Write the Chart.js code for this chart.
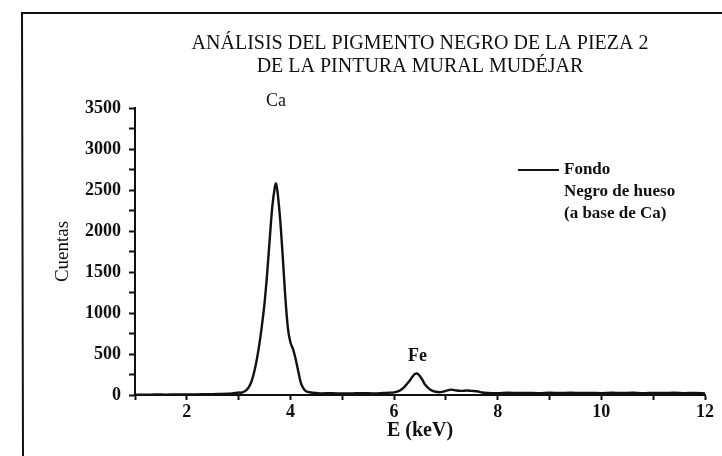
<!DOCTYPE html>
<html>
<head>
<meta charset="utf-8">
<script src="https://cdn.jsdelivr.net/npm/chart.js@4.4.1/dist/chart.umd.min.js"></script>
<style>
    html, body { margin: 0; padding: 0; background: #fff; }
    #wrap { width: 722px; height: 456px; }
</style>
</head>
<body>
<div id="wrap"><canvas id="edxChart" width="722" height="456"></canvas></div>
<script>
// Espectro EDX - pigmento negro, pieza 2
const titleLines = ['ANÁLISIS DEL PIGMENTO NEGRO DE LA PIEZA 2', 'DE LA PINTURA MURAL MUDÉJAR'];

const energy = [
    1.0, 1.2, 1.4, 1.6, 1.8, 2.0, 2.2, 2.4, 2.6, 2.8, 2.9, 3.0, 3.05, 3.1, 3.15, 3.2,
    3.25, 3.3, 3.35, 3.4, 3.45, 3.5, 3.55, 3.6, 3.65, 3.7, 3.72, 3.75, 3.8, 3.85, 3.9,
    3.95, 4.0, 4.05, 4.1, 4.15, 4.2, 4.25, 4.3, 4.4, 4.5, 4.6, 4.8, 5.0, 5.2, 5.4, 5.6,
    5.8, 5.9, 6.0, 6.1, 6.2, 6.3, 6.35, 6.4, 6.45, 6.5, 6.55, 6.6, 6.7, 6.8, 6.9, 7.0,
    7.1, 7.2, 7.3, 7.4, 7.5, 7.6, 7.7, 7.8, 8.0, 8.2, 8.4, 8.6, 8.8, 9.0, 9.2, 9.4,
    9.6, 9.8, 10.0, 10.2, 10.4, 10.6, 10.8, 11.0, 11.2, 11.4, 11.6, 11.8, 12.0
];

const counts = [
    5, 4, 6, 5, 7, 6, 8, 9, 12, 15, 22, 30, 28, 40, 60, 100,
    170, 280, 430, 620, 850, 1120, 1480, 1900, 2300, 2540, 2580, 2480, 2150, 1700, 1200,
    820, 640, 560, 440, 290, 150, 80, 45, 30, 25, 20, 22, 18, 20, 22, 20,
    25, 28, 32, 50, 100, 175, 220, 255, 260, 230, 180, 125, 65, 40, 35, 50,
    65, 55, 50, 55, 50, 45, 30, 25, 22, 28, 24, 26, 22, 27, 25, 28,
    24, 26, 23, 27, 25, 28, 22, 26, 24, 27, 23, 25, 20
];

const xTicks = [2, 4, 6, 8, 10, 12];
const yTicks = [0, 500, 1000, 1500, 2000, 2500, 3000, 3500];

const peakLabels = [
    { text: 'Ca', x: 3.72, bold: false },
    { text: 'Fe', x: 6.45, y: 470, bold: true }
];

const legendLines = ['Fondo', 'Negro de hueso', '(a base de Ca)'];

const SERIF = '"Liberation Serif", "DejaVu Serif", serif';

const EdxChart = {
    chart: null,

    // titulo, marco, etiquetas de picos y leyenda
    decorations: {
        id: 'decorations',
        afterDraw: function(chart) {
            const ctx = chart.ctx;
            const area = chart.chartArea;
            const xs = chart.scales.x;
            const ys = chart.scales.y;
            ctx.save();

            // marco del escaneo
            ctx.strokeStyle = '#111';
            ctx.lineWidth = 2;
            ctx.beginPath();
            ctx.moveTo(23, 456);
            ctx.lineTo(22, 13);
            ctx.lineTo(722, 13);
            ctx.stroke();

            ctx.fillStyle = '#111';
            ctx.textAlign = 'center';
            ctx.textBaseline = 'middle';
            ctx.font = '20px ' + SERIF;
            const cx = (area.left + area.right) / 2;
            titleLines.forEach((line, i) => ctx.fillText(line, cx, 44 + i * 23));

            peakLabels.forEach(p => {
                ctx.font = (p.bold ? 'bold ' : '') + '18px ' + SERIF;
                const py = p.y !== undefined ? ys.getPixelForValue(p.y) : area.top - 7;
                ctx.fillText(p.text, xs.getPixelForValue(p.x), py);
            });

            // leyenda
            const lx = area.right - 187;
            const ly = area.top + 62;
            ctx.lineWidth = 2;
            ctx.beginPath();
            ctx.moveTo(lx, ly);
            ctx.lineTo(lx + 41, ly);
            ctx.stroke();
            ctx.textAlign = 'left';
            ctx.font = 'bold 17px ' + SERIF;
            legendLines.forEach((line, i) => ctx.fillText(line, lx + 46, ly + i * 22));

            ctx.restore();
        }
    },

    init: function() {
        const ctx = document.getElementById('edxChart').getContext('2d');
        this.chart = new Chart(ctx, {
            type: 'line',
            data: {
                labels: energy,
                datasets: [{
                    label: 'Fondo',
                    data: energy.map((e, i) => ({ x: e, y: counts[i] })),
                    borderColor: '#111',
                    borderWidth: 2.4,
                    pointRadius: 0,
                    tension: 0.3,
                    fill: false
                }]
            },
            options: {
                responsive: false,
                animation: false,
                layout: { padding: { top: 108, left: 52, right: 17, bottom: 0 } },
                plugins: {
                    legend: { display: false },
                    title: { display: false },
                    tooltip: { enabled: false }
                },
                scales: {
                    x: {
                        type: 'linear',
                        min: 1,
                        max: 12,
                        afterBuildTicks: function(scale) {
                            scale.ticks = [];
                            for (let v = 1; v <= 12; v++) scale.ticks.push({ value: v });
                        },
                        afterFit: function(scale) { scale.height = 61; },
                        border: { color: '#111', width: 2 },
                        grid: {
                            drawOnChartArea: false,
                            tickLength: 5,
                            tickColor: '#111',
                            tickWidth: 2
                        },
                        ticks: {
                            color: '#111',
                            padding: 2,
                            maxRotation: 0,
                            autoSkip: false,
                            font: { family: SERIF, size: 18, weight: 'bold' },
                            callback: v => xTicks.includes(v) ? String(v) : ''
                        },
                        title: {
                            display: true,
                            text: 'E (keV)',
                            color: '#111',
                            padding: { top: 0, bottom: 13 },
                            font: { family: SERIF, size: 20, weight: 'bold' }
                        }
                    },
                    y: {
                        min: 0,
                        max: 3500,
                        afterBuildTicks: function(scale) {
                            scale.ticks = [];
                            for (let v = 0; v <= 3500; v += 250) scale.ticks.push({ value: v });
                        },
                        afterFit: function(scale) { scale.width = 83; },
                        border: { color: '#111', width: 2 },
                        grid: {
                            drawOnChartArea: false,
                            tickLength: 6,
                            tickColor: '#111',
                            tickWidth: 2
                        },
                        ticks: {
                            color: '#111',
                            padding: 8,
                            autoSkip: false,
                            font: { family: SERIF, size: 18, weight: 'bold' },
                            callback: v => yTicks.includes(v) ? String(v) : ''
                        },
                        title: {
                            display: true,
                            text: 'Cuentas',
                            color: '#111',
                            padding: { top: 0, bottom: 0 },
                            font: { family: SERIF, size: 19 }
                        }
                    }
                }
            },
            plugins: [this.decorations]
        });
    }
};

EdxChart.init();
</script>
</body>
</html>
